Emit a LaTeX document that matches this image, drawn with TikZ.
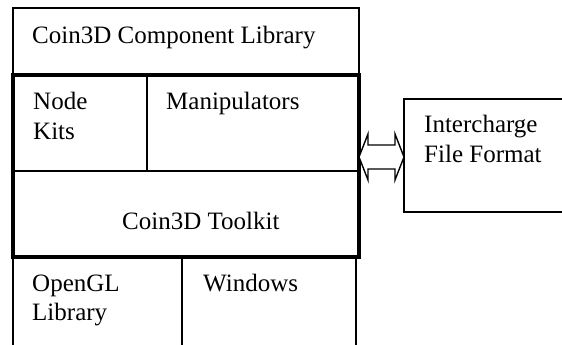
\documentclass[tikz,border=0pt]{standalone}
\usepackage{fontspec}
\setmainfont{Liberation Serif}
\tikzset{
  thinline/.style={line width=1.4pt},
  thickline/.style={line width=4pt},
  lbl/.style={anchor=base west, inner sep=0pt, font=\fontsize{25}{30}\selectfont}
}
\begin{document}
\begin{tikzpicture}[x=1pt,y=-1pt]
\useasboundingbox (0,0) rectangle (562,345);
\clip (0,0) rectangle (562,345);
% boxes
\draw[thinline] (13,8) rectangle (359,75);
\draw[thinline] (147,75) -- (147,171);
\draw[thinline] (13,171) -- (359,171);
\draw[thickline] (13,75) rectangle (359,257);
\draw[thinline] (13,257) -- (13,360);
\draw[thinline] (182,257) -- (182,360);
\draw[thinline] (356,257) -- (356,360);
\draw[thinline] (404,99) rectangle (580,212);
% coordinates for the arrow
\coordinate (ltip) at (359,157);
\coordinate (rtip) at (404,157);
\draw[line width=1.4pt, fill=white, line join=miter]
  (ltip) -- (368,134) -- (368,145) -- (395,145) -- (395,134) -- (rtip)
  -- (395,180) -- (395,169) -- (368,169) -- (368,180) -- cycle;
% labels
\node[lbl] (comp) at (32,44) {Coin3D Component Library};
\node[lbl] (node1) at (33,109) {Node};
\node[lbl] (node2) at (33,139) {Kits};
\node[lbl] (manip) at (166,109) {Manipulators};
\node[lbl] (toolkit) at (122,229) {Coin3D Toolkit};
\node[lbl] (inter1) at (424,132) {Intercharge};
\node[lbl] (inter2) at (424,162) {File Format};
\node[lbl] (ogl1) at (32,291) {OpenGL};
\node[lbl] (ogl2) at (32,320) {Library};
\node[lbl] (win) at (203,291) {Windows};
\end{tikzpicture}
\end{document}
